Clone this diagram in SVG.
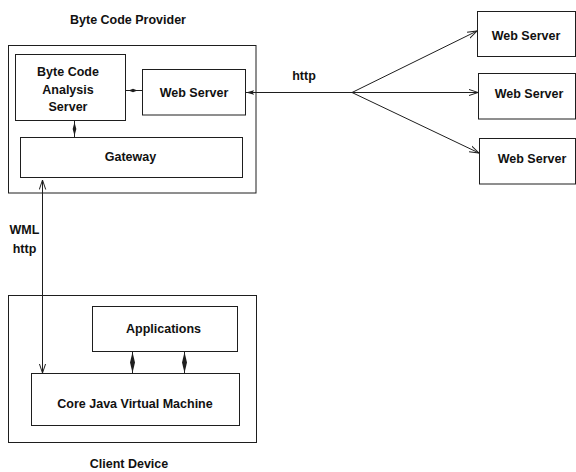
<svg xmlns="http://www.w3.org/2000/svg" width="576" height="472" viewBox="0 0 576 472">
  <style>
    .box { fill: #ffffff; stroke: #1e1e1e; stroke-width: 1; }
    .conn { fill: none; stroke: #1e1e1e; stroke-width: 1; }
    .knot { fill: #1e1e1e; stroke: none; }
    text { font-family: "Liberation Sans", Arial, Helvetica, sans-serif; font-weight: bold; font-size: 12.5px; fill: #111111; text-anchor: middle; }
  </style>
  <defs>
    <marker id="open" viewBox="0 0 10 8" refX="9.5" refY="4" markerWidth="10" markerHeight="8" markerUnits="userSpaceOnUse" orient="auto-start-reverse">
      <path d="M0,0.8 L9.5,4 L0,7.2" fill="none" stroke="#1e1e1e" stroke-width="1"/>
    </marker>
    <marker id="solid" viewBox="0 0 10 8" refX="9.5" refY="4" markerWidth="9" markerHeight="7" markerUnits="userSpaceOnUse" orient="auto">
      <path d="M0,1.2 L9.5,4 L0,6.8 L2,4 Z" fill="#1e1e1e"/>
    </marker>
  </defs>

  <rect width="576" height="472" fill="#ffffff"/>

  <!-- provider side -->
  <g id="byte-code-provider">
    <rect class="box" x="8.5" y="45.5" width="247.5" height="147.5"/>
    <text x="128" y="24">Byte Code Provider</text>
  </g>
  <g id="analysis-server">
    <rect class="box" x="15.5" y="54.5" width="110" height="66"/>
    <text x="68" y="76">Byte Code</text>
    <text x="68" y="94">Analysis</text>
    <text x="68" y="111">Server</text>
  </g>
  <g id="provider-web-server">
    <rect class="box" x="142.5" y="69.5" width="103" height="45.5"/>
    <text x="194" y="97">Web Server</text>
  </g>
  <g id="gateway">
    <rect class="box" x="20.5" y="137.5" width="222" height="40"/>
    <text x="130.5" y="161">Gateway</text>
  </g>

  <!-- remote servers -->
  <g id="web-server-1">
    <rect class="box" x="477.5" y="11.5" width="98" height="45"/>
    <text x="526" y="39.5">Web Server</text>
  </g>
  <g id="web-server-2">
    <rect class="box" x="478.5" y="73.5" width="97" height="45.5"/>
    <text x="529" y="98">Web Server</text>
  </g>
  <g id="web-server-3">
    <rect class="box" x="479.5" y="138.5" width="96" height="45.5"/>
    <text x="532" y="163">Web Server</text>
  </g>

  <!-- client side -->
  <g id="client-device">
    <rect class="box" x="8.5" y="295.5" width="248" height="147"/>
    <text x="129" y="468">Client Device</text>
  </g>
  <g id="applications">
    <rect class="box" x="92.5" y="306.5" width="145" height="45"/>
    <text x="163.5" y="333">Applications</text>
  </g>
  <g id="core-jvm">
    <rect class="box" x="31.5" y="373.5" width="208" height="52"/>
    <text x="135" y="408">Core Java Virtual Machine</text>
  </g>

  <g id="connectors">
    <!-- http fan-out -->
    <line class="conn" x1="352" y1="92.5" x2="246" y2="92.5" marker-end="url(#solid)"/>
    <line class="conn" x1="352" y1="92.5" x2="477" y2="31" marker-end="url(#open)"/>
    <line class="conn" x1="352" y1="92.5" x2="478" y2="92.5" marker-end="url(#open)"/>
    <line class="conn" x1="352" y1="92.5" x2="479" y2="153" marker-end="url(#open)"/>
    <text x="304" y="80">http</text>

    <!-- analysis server links -->
    <line class="conn" x1="125.5" y1="90.5" x2="142.5" y2="90.5"/>
    <polygon class="knot" points="128.5,90.5 133,88.8 137.5,90.5 133,92.2"/>
    <line class="conn" x1="74.5" y1="120.5" x2="74.5" y2="137.5"/>
    <polygon class="knot" points="74.5,122 76.3,129 74.5,136 72.7,129"/>

    <!-- gateway to client -->
    <line class="conn" x1="42.5" y1="180" x2="42.5" y2="373" marker-start="url(#open)" marker-end="url(#open)"/>
    <text x="24.5" y="234">WML</text>
    <text x="24.5" y="253">http</text>

    <!-- applications to JVM -->
    <line class="conn" x1="132.5" y1="351.5" x2="132.5" y2="373.5"/>
    <polygon class="knot" points="132.5,352 135,362.5 132.5,373 130,362.5"/>
    <line class="conn" x1="184.5" y1="351.5" x2="184.5" y2="373.5"/>
    <polygon class="knot" points="184.5,352 187,362.5 184.5,373 182,362.5"/>
  </g>
</svg>
